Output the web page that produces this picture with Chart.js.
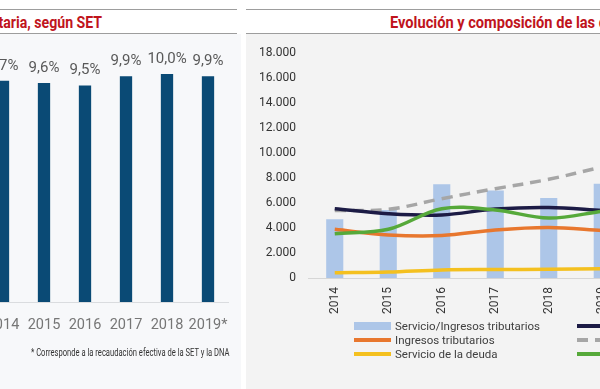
<!DOCTYPE html>
<html>
<head>
<meta charset="utf-8">
<script src="https://cdn.jsdelivr.net/npm/chart.js@4.4.1/dist/chart.umd.min.js"></script>
<style>
  html, body { margin: 0; padding: 0; background: #fff; }
  body { width: 600px; height: 389px; position: relative; overflow: hidden; font-family: Roboto, sans-serif; }
  .panel { position: absolute; top: 0; height: 389px; overflow: hidden; }
  #izq { left: 0; width: 241px; }
  #der { left: 246px; width: 354px; }
  .linea { position: absolute; height: 1px; background: #9d9d9d; }
  .cuerpo { position: absolute; top: 34px; left: 0; right: 0; bottom: 0; }
  #izq .cuerpo { background: #f7f8fa; }
  #der .cuerpo { background: #f3f3f3; }
  .titulo { position: absolute; top: 11px; white-space: nowrap; color: #c0141c; font-weight: bold; font-size: 17px; line-height: 22px; }
  .lienzo { position: absolute; top: 34px; }
  #nota { position: absolute; left: 31px; top: 346px; font-size: 10px; line-height: 14px; color: #333; white-space: nowrap; transform: scaleX(0.76); transform-origin: left center; }
  #leyenda { position: absolute; left: 0; top: 0; }
  .item { position: absolute; height: 14px; line-height: 14px; font-size: 11.5px; color: #404040; white-space: nowrap; }
  .muestra { position: absolute; left: 0; width: 37px; }
  .item span.txt { position: absolute; left: 41px; top: 0; }
</style>
</head>
<body>

<div class="panel" id="izq">
  <div class="cuerpo"></div>
  <div class="linea" style="top:9px;left:0;width:237px"></div>
  <div class="linea" style="top:33px;left:0;width:237px"></div>
  <div class="titulo" style="right:139px;transform:scaleX(0.83);transform-origin:right center">Presión tributaria, según SET</div>
  <div class="lienzo" style="left:-40px"><canvas id="grafPresion" width="300" height="355"></canvas></div>
  <div id="nota">* Corresponde a la recaudación efectiva de la SET y la DNA</div>
</div>

<div class="panel" id="der">
  <div class="cuerpo"></div>
  <div class="linea" style="top:9px;left:0;right:0"></div>
  <div class="linea" style="top:33px;left:0;right:0"></div>
  <div class="titulo" style="left:144px;transform:scaleX(0.86);transform-origin:left center">Evolución y composición de las deudas</div>
  <div class="lienzo" style="left:0"><canvas id="grafDeuda" width="400" height="290"></canvas></div>
  <div id="leyenda"></div>
</div>

<script>
// presión tributaria (% del PIB)
const anios = ['2014', '2015', '2016', '2017', '2018', '2019*'];
const presion = [9.7, 9.6, 9.5, 9.9, 10.0, 9.9];

// deuda, en millones
const aniosDeuda = ['2014', '2015', '2016', '2017', '2018', '2019'];
const servicioIngresos = [4700, 5450, 7500, 7000, 6400, 7550];
const deudaExterna = [5550, 5150, 5050, 5520, 5650, 5400];
const deudaTotal = [5400, 5500, 6350, 7150, 7900, 8900];
const deudaInterna = [3550, 3900, 5550, 5450, 4800, 5350];
const ingresosTrib = [3900, 3450, 3400, 3850, 4050, 3800];
const servicioDeuda = [420, 480, 650, 680, 700, 750];

Chart.defaults.font.family = 'Roboto';

const fmtPct = v => v.toFixed(1).replace('.', ',') + '%';
const fmtMiles = v => String(v).replace(/\B(?=(\d{3})+(?!\d))/g, '.');

const etiquetasBarras = {
    id: 'etiquetasBarras',
    afterDatasetsDraw(chart) {
        const ctx = chart.ctx;
        const meta = chart.getDatasetMeta(0);
        ctx.save();
        ctx.font = '15px Roboto';
        ctx.fillStyle = '#595959';
        ctx.textAlign = 'center';
        ctx.textBaseline = 'alphabetic';
        meta.data.forEach((bar, i) => {
            ctx.fillText(fmtPct(presion[i]), bar.x, bar.y - 11);
        });
        ctx.restore();
    }
};

new Chart(document.getElementById('grafPresion'), {
    type: 'bar',
    data: {
        labels: anios,
        datasets: [{
            data: presion,
            backgroundColor: '#0a4a75',
            categoryPercentage: 0.6,
            barPercentage: 0.5
        }]
    },
    options: {
        responsive: false,
        animation: false,
        events: [],
        layout: { padding: { left: 22.5, right: 31.5, top: 17.2, bottom: 0 } },
        plugins: { legend: { display: false }, tooltip: { enabled: false } },
        scales: {
            y: { display: false, min: 0, max: 11 },
            x: {
                grid: { display: false, drawTicks: false },
                border: { display: true, color: '#dadcdf' },
                ticks: { color: '#767676', font: { size: 14.5 }, padding: 15, maxRotation: 0, autoSkip: false },
                afterFit: scale => { scale.height = 87; }
            }
        }
    },
    plugins: [etiquetasBarras]
});

const grafDeuda = new Chart(document.getElementById('grafDeuda'), {
    type: 'bar',
    data: {
        labels: aniosDeuda,
        datasets: [
            { type: 'bar', label: 'Servicio/Ingresos tributarios', data: servicioIngresos, backgroundColor: '#adc6e8',
              categoryPercentage: 0.64, barPercentage: 0.5, order: 10 },
            { type: 'line', label: 'Deuda externa', data: deudaExterna, borderColor: '#1c1b45', order: 2 },
            { type: 'line', label: 'Ingresos tributarios', data: ingresosTrib, borderColor: '#e8772e', order: 4 },
            { type: 'line', label: 'Deuda total', data: deudaTotal, borderColor: '#a6a6a6', borderDash: [11, 7], order: 3 },
            { type: 'line', label: 'Servicio de la deuda', data: servicioDeuda, borderColor: '#f4c01f', order: 5 },
            { type: 'line', label: 'Deuda interna', data: deudaInterna, borderColor: '#56a93a', order: 1 }
        ]
    },
    options: {
        responsive: false,
        animation: false,
        events: [],
        layout: { padding: { left: 0, right: 17, top: 19, bottom: 0 } },
        elements: {
            line: { borderWidth: 3.5, tension: 0.35, fill: false, borderCapStyle: 'butt' },
            point: { radius: 0 }
        },
        plugins: { legend: { display: false }, tooltip: { enabled: false } },
        scales: {
            y: {
                min: 0, max: 18000,
                grid: { display: false, drawTicks: false },
                border: { display: false },
                ticks: { stepSize: 2000, color: '#333', font: { size: 12 }, padding: 12, callback: v => fmtMiles(v) },
                afterFit: scale => { scale.width = 62; }
            },
            x: {
                grid: { display: false, drawTicks: false },
                border: { display: true, color: '#d6d6d6' },
                ticks: { color: '#333', font: { size: 12 }, padding: 9, minRotation: 90, maxRotation: 90, autoSkip: false },
                afterFit: scale => { scale.height = 46; }
            }
        }
    }
});

// leyenda en dos columnas, armada desde los datasets
const posiciones = {
    'Servicio/Ingresos tributarios': [0, 0],
    'Ingresos tributarios': [0, 1],
    'Servicio de la deuda': [0, 2],
    'Deuda externa': [1, 0],
    'Deuda total': [1, 1],
    'Deuda interna': [1, 2]
};
const columnasX = [108, 331];
const leyenda = document.getElementById('leyenda');
grafDeuda.data.datasets.forEach(ds => {
    const [col, fila] = posiciones[ds.label];
    const item = document.createElement('div');
    item.className = 'item';
    item.style.left = columnasX[col] + 'px';
    item.style.top = (319 + fila * 14) + 'px';
    const m = document.createElement('div');
    m.className = 'muestra';
    if (ds.type === 'bar') {
        m.style.top = '3px'; m.style.height = '8px'; m.style.background = ds.backgroundColor;
    } else if (ds.borderDash) {
        m.style.top = '5px'; m.style.height = '4px';
        m.style.background = `repeating-linear-gradient(90deg, ${ds.borderColor} 0 11px, transparent 11px 18px)`;
    } else {
        m.style.top = '5px'; m.style.height = '4px'; m.style.background = ds.borderColor;
    }
    const t = document.createElement('span');
    t.className = 'txt';
    t.textContent = ds.label;
    item.appendChild(m);
    item.appendChild(t);
    leyenda.appendChild(item);
});
</script>
</body>
</html>
